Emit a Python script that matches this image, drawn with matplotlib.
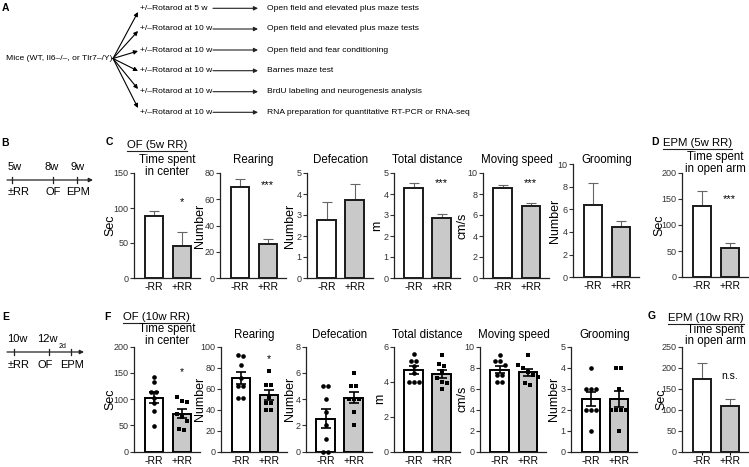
import numpy as np
import matplotlib
matplotlib.use("Agg")
import matplotlib.pyplot as plt

plt.rcParams["font.family"] = ["Liberation Sans", "DejaVu Sans"]

W, H = 749, 467

groups = ["-RR", "+RR"]

# ---- panel A: experiment scheme
mice_text = "Mice (WT, Il6–/–, or Tlr7–/Y)"
rotarod_text = ["+/–Rotarod at 5 w"] + ["+/–Rotarod at 10 w"] * 5
outcome_text = [
    "Open field and elevated plus maze tests",
    "Open field and elevated plus maze tests",
    "Open field and fear conditioning",
    "Barnes maze test",
    "BrdU labeling and neurogenesis analysis",
    "RNA preparation for quantitative RT-PCR or RNA-seq",
]

# ---- timelines (B, E)
tl5_top = ["5w", "8w", "9w"]
tl5_bottom = ["±RR", "OF", "EPM"]
tl10_top = ["10w", "12w"]
tl10_sub = "2d"
tl10_bottom = ["±RR", "OF", "EPM"]

# ---- C: open field after 5w RR (mean, top of SEM bar)
c_titles = ["Time spent\nin center", "Rearing", "Defecation",
            "Total distance", "Moving speed", "Grooming"]
c_ylabels = ["Sec", "Number", "Number", "m", "cm/s", "Number"]
c_ymax = [150, 80, 5, 5, 10, 10]
c_ystep = [50, 20, 1, 1, 2, 2]
c_mean = [[89, 46], [69, 26], [2.76, 3.72], [4.3, 2.88], [8.54, 6.86], [6.4, 4.4]]
c_err_top = [[96, 65], [75.5, 30], [3.6, 4.48], [4.5, 3.07], [8.86, 7.1], [8.3, 5.0]]
c_stars = ["*", "***", "", "***", "***", ""]
c_star_y = [108, 71, 0, 4.5, 9.0, 0]

# ---- D: EPM after 5w RR
d_mean = [137, 55]
d_err_top = [166, 65]

# ---- F: open field after 10w RR, individual animals
f_titles = c_titles
f_ylabels = c_ylabels
f_ymax = [200, 100, 8, 6, 10, 5]
f_ystep = [50, 20, 2, 2, 2, 1]
f_minus = [
    [143, 132, 114, 114, 103, 92, 77, 49],
    [92, 91, 83, 70, 63, 63, 51, 51],
    [5, 5, 4, 3, 2, 1, 0, 0],
    [5.6, 5.2, 5.2, 4.9, 4.5, 4.0, 4.0, 4.0],
    [9.2, 8.6, 8.6, 8.3, 7.3, 7.3, 6.6, 6.6],
    [4, 3, 3, 3, 2, 2, 2, 1],
]
f_plus = [
    [104, 97, 95, 72, 66, 58, 43, 41],
    [77, 64, 64, 52, 46, 46, 40, 40],
    [6, 5, 5, 4, 4, 4, 3, 2],
    [5.5, 5.0, 4.9, 4.6, 4.2, 4.0, 3.9, 3.6],
    [9.2, 8.3, 8.0, 7.6, 7.3, 7.1, 6.5, 6.4],
    [4, 4, 3, 2, 2, 2, 2, 1],
]
f_stars = ["*", "*", "", "", "", ""]
f_star_y = [151, 88, 0, 0, 0, 0]

# ---- G: EPM after 10w RR
g_mean = [172, 109]
g_err_top = [211, 125]

# ------------------------------------------------------------------
UNIT = 28.0          # px between the two bars
XLIM = (-0.7, 1.65)
AX_W = (XLIM[1] - XLIM[0]) * UNIT
BAR_W = 0.65
FILL = ["white", "#c9c9c9"]

fig = plt.figure(figsize=(W / 100, H / 100), dpi=100)


def add_ax(left, top, height):
    return fig.add_axes([left / W, 1 - (top + height) / H, AX_W / W, height / H])


def style(ax, ymax, ystep, ylabel, lab_off, xticklen=0, xpad=3):
    ax.set_xlim(*XLIM)
    ax.set_ylim(0, ymax)
    ax.set_yticks(np.arange(0, ymax + ystep / 2, ystep))
    ax.set_xticks([0, 1])
    ax.set_xticklabels(groups)
    for s in ["top", "right"]:
        ax.spines[s].set_visible(False)
    for s in ["left", "bottom"]:
        ax.spines[s].set_linewidth(0.9)
        ax.spines[s].set_color("#222222")
    ax.tick_params(axis="y", direction="out", length=3, width=0.8,
                   labelsize=6.5, pad=1, colors="#333333")
    ax.tick_params(axis="x", length=xticklen, width=0.8, labelsize=7.5, pad=xpad)
    ax.set_ylabel(ylabel, fontsize=9, va="center")
    ax.yaxis.set_label_coords(-lab_off / AX_W, 0.5)
    ax.patch.set_visible(False)


def swarm_px(vals, px_per_unit, d=5.0):
    vals = np.asarray(vals, float)
    order = np.argsort(-vals, kind="stable")
    clusters = [[order[0]]]
    for i in order[1:]:
        if (vals[clusters[-1][-1]] - vals[i]) * px_per_unit < d * 0.9:
            clusters[-1].append(i)
        else:
            clusters.append([i])
    offs = np.zeros(len(vals))
    for cl in clusters:
        n = len(cl)
        for k, i in enumerate(cl):
            offs[i] = (k - (n - 1) / 2) * d
    return offs


def summary_bars(ax, mean, top):
    x = np.arange(2)
    ax.bar(x, mean, width=BAR_W, color=FILL, edgecolor="#1a1a1a", linewidth=1.4, zorder=2)
    err = np.array(top) - np.array(mean)
    ax.errorbar(x, mean, yerr=[np.zeros(2), err], fmt="none", ecolor="#666666",
                elinewidth=0.8, capsize=3.5, capthick=0.8, zorder=1)


# ---- C row
c_left = [134, 220, 307, 394, 483, 573]
c_lab_off = [24, 20, 17, 17, 20, 18]
for i in range(6):
    top, hgt = (164, 113.3) if i == 5 else (173, 105)
    ax = add_ax(c_left[i], top, hgt)
    summary_bars(ax, c_mean[i], c_err_top[i])
    style(ax, c_ymax[i], c_ystep[i], c_ylabels[i], c_lab_off[i])
    if c_stars[i]:
        ax.text(1, c_star_y[i], c_stars[i], ha="center", va="center", fontsize=8)

# ---- D
ax_d = add_ax(682, 173, 104)
summary_bars(ax_d, d_mean, d_err_top)
style(ax_d, 200, 50, "Sec", 23)
ax_d.text(1, 150, "***", ha="center", va="center", fontsize=8)

# ---- F row
f_left = [134, 221, 306, 394, 480, 571]
f_lab_off = [24, 21, 16, 13.5, 18, 17]
for i in range(6):
    ax = add_ax(f_left[i], 346.7, 105)
    ppu = 105 / f_ymax[i]
    data = [f_minus[i], f_plus[i]]
    means = [np.mean(v) for v in data]
    sems = [np.std(v, ddof=1) / np.sqrt(len(v)) for v in data]
    ax.bar([0, 1], means, width=BAR_W, color=FILL, edgecolor="black", linewidth=1.4, zorder=2)
    ax.errorbar([0, 1], means, yerr=sems, fmt="none", ecolor="black",
                elinewidth=1.2, capsize=3.5, capthick=1.2, zorder=3)
    for g, (vals, mk) in enumerate(zip(data, ["o", "s"])):
        xs = g + swarm_px(vals, ppu) / UNIT
        ax.scatter(xs, vals, s=11 if mk == "o" else 10, marker=mk, color="black",
                   linewidths=0, zorder=4, clip_on=False)
    style(ax, f_ymax[i], f_ystep[i], f_ylabels[i], f_lab_off[i])
    if f_stars[i]:
        ax.text(1, f_star_y[i], f_stars[i], ha="center", va="center", fontsize=7.5)

# ---- G
ax_g = add_ax(682, 346.7, 105)
summary_bars(ax_g, g_mean, g_err_top)
style(ax_g, 250, 50, "Sec", 21, xticklen=2, xpad=1)
ax_g.text(1, 181, "n.s.", ha="center", va="center", fontsize=7.5)

# ---- overlay for text, arrows and labels (pixel coordinates)
ov = fig.add_axes([0, 0, 1, 1])
ov.set_xlim(0, W)
ov.set_ylim(H, 0)
ov.axis("off")

letters = [("A", 5, 8), ("B", 5, 143), ("C", 109, 142), ("D", 655, 142),
           ("E", 6, 317), ("F", 107, 317), ("G", 652, 316)]
for lab, x, y in letters:
    ov.text(x, y, lab, fontsize=7.5, fontweight="bold", ha="center", va="center")

# A scheme
row_y = [8.3, 29, 50, 70.7, 91.7, 112.3]
fan_end = [12, 31, 51, 71, 89, 108]
ov.text(6, 58.5, mice_text, fontsize=6.1, ha="left", va="center")
for y, ye, left_t, right_t in zip(row_y, fan_end, rotarod_text, outcome_text):
    ov.annotate("", xy=(138, ye), xytext=(113, 58.5),
                arrowprops=dict(arrowstyle="-|>", lw=0.8, color="black",
                                mutation_scale=6, shrinkA=0, shrinkB=0))
    ov.text(140, y, left_t, fontsize=6.1, ha="left", va="center")
    ov.annotate("", xy=(258, y), xytext=(213, y),
                arrowprops=dict(arrowstyle="-|>", lw=0.8, color="#222222",
                                mutation_scale=6, shrinkA=0, shrinkB=0))
    ov.text(267, y, right_t, fontsize=6.1, ha="left", va="center")

# B timeline
ov.annotate("", xy=(93, 180), xytext=(7, 180),
            arrowprops=dict(arrowstyle="-|>", lw=0.9, color="#222222",
                            mutation_scale=6, shrinkA=0, shrinkB=0))
for tx, top_t, bot_t, tcx, bcx in zip([12, 53, 77], tl5_top, tl5_bottom,
                                      [15, 52, 78], [19, 53, 78]):
    ov.plot([tx, tx], [177, 183], color="#222222", lw=0.9)
    ov.text(tcx, 167, top_t, fontsize=8, ha="center", va="center")
    ov.text(bcx, 192, bot_t, fontsize=8, ha="center", va="center")

# E timeline
ov.annotate("", xy=(84, 352), xytext=(7, 352),
            arrowprops=dict(arrowstyle="-|>", lw=0.9, color="#222222",
                            mutation_scale=6, shrinkA=0, shrinkB=0))
for tx in [14, 49, 71]:
    ov.plot([tx, tx], [349, 355], color="#222222", lw=0.9)
for t, cx in zip(tl10_top, [17, 47]):
    ov.text(cx, 339, t, fontsize=8, ha="center", va="center")
ov.text(62.5, 347, tl10_sub, fontsize=5, ha="center", va="center")
for t, cx in zip(tl10_bottom, [19, 45, 72]):
    ov.text(cx, 365, t, fontsize=8, ha="center", va="center")

# headings with underline
fig.canvas.draw()
heads = [("OF (5w RR)", 127, 145), ("EPM (5w RR)", 663, 143),
         ("OF (10w RR)", 123, 317), ("EPM (10w RR)", 668, 318)]
inv = ov.transData.inverted()
for txt, x, y in heads:
    t = ov.text(x, y, txt, fontsize=8.2, ha="left", va="center")
    bb = t.get_window_extent(renderer=fig.canvas.get_renderer())
    (x0, _), (x1, _) = inv.transform([[bb.x0, bb.y0], [bb.x1, bb.y1]])
    ov.plot([x0, x1], [y + 6, y + 6], color="#222222", lw=0.8)

# panel titles
for i in range(6):
    cx = c_left[i] + (0.5 - XLIM[0]) * UNIT
    ov.text(cx, 154, c_titles[i], fontsize=8.3, ha="center", va="top", linespacing=0.95)
    fx = f_left[i] + (0.5 - XLIM[0]) * UNIT
    ov.text(fx, 335, f_titles[i], fontsize=8.3, ha="center", va="center", linespacing=0.95)
gx = 682 + (0.5 - XLIM[0]) * UNIT
ov.text(gx, 151, "Time spent\nin open arm", fontsize=8.3, ha="center", va="top", linespacing=0.95)
ov.text(gx, 335.5, "Time spent\nin open arm", fontsize=8.3, ha="center", va="center", linespacing=0.95)

fig.savefig("out.png", dpi=100)
